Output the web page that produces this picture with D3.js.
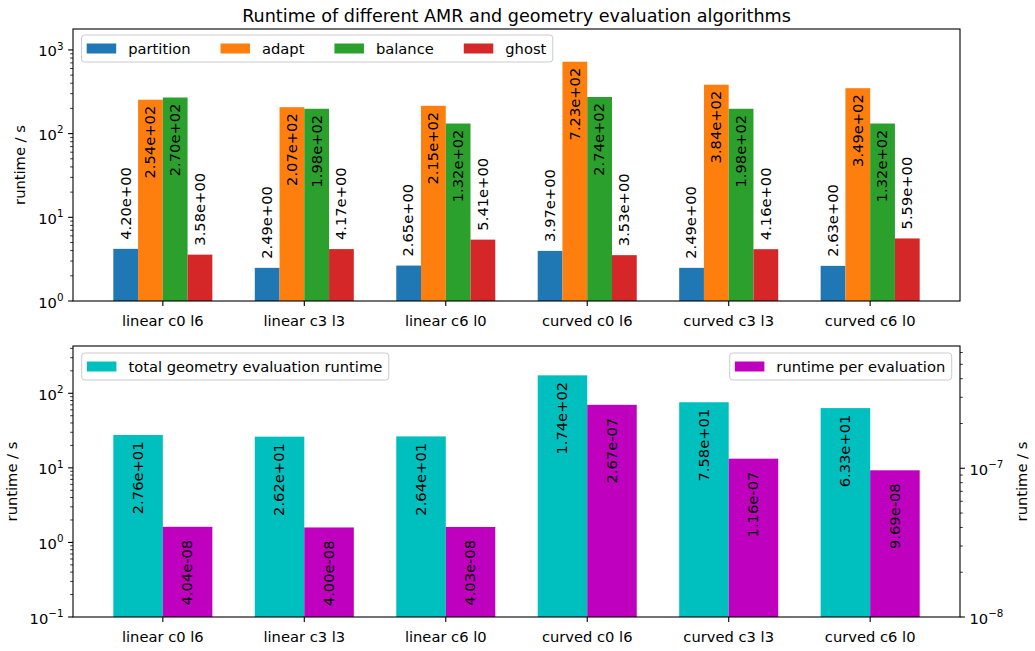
<!DOCTYPE html>
<html>
<head>
<meta charset="utf-8">
<script src="https://cdn.jsdelivr.net/npm/d3@7"></script>
<style>
body { margin: 0; background: #fff; }
svg { display: block; font-family: "DejaVu Sans", sans-serif; }
</style>
</head>
<body>
<svg width="1035" height="651"></svg>
<script>
// data
const categories = ["linear c0 l6", "linear c3 l3", "linear c6 l0", "curved c0 l6", "curved c3 l3", "curved c6 l0"];
const amrNames = ["partition", "adapt", "balance", "ghost"];
const amrColors = ["#1f77b4", "#ff7f0e", "#2ca02c", "#d62728"];
const partition = [4.20, 2.49, 2.65, 3.97, 2.49, 2.63];
const adapt = [254, 207, 215, 723, 384, 349];
const balance = [270, 198, 132, 274, 198, 132];
const ghost = [3.58, 4.17, 5.41, 3.53, 4.16, 5.59];
const geomTotal = [27.6, 26.2, 26.4, 174, 75.8, 63.3];
const geomPerEval = [4.04e-8, 4.00e-8, 4.03e-8, 2.67e-7, 1.16e-7, 9.69e-8];

const amrSeries = [partition, adapt, balance, ghost];

const svg = d3.select("svg");
const fs = 14.7;

// layout
const left = 73, right = 960;
const top1 = 29, bot1 = 301;
const top2 = 346, bot2 = 617;

const x = d3.scaleLinear().domain([-0.635, 5.635]).range([left, right]);
const yTop = d3.scaleLog().domain([1, Math.pow(10, 3.25)]).range([bot1, top1]);
const yBotL = d3.scaleLog().domain([0.1, Math.pow(10, 2.634)]).range([bot2, top2]);
const yBotR = d3.scaleLog().domain([1e-8, Math.pow(10, -6.178)]).range([bot2, top2]);

function fmtE(v) {
    const parts = v.toExponential(2).split("e");
    const n = +parts[1];
    return parts[0] + "e" + (n < 0 ? "-" : "+") + String(Math.abs(n)).padStart(2, "0");
}

function logAxis(g, y, side, x0) {
    const [lo, hi] = y.domain();
    const kmin = Math.floor(Math.log10(lo) + 1e-9), kmax = Math.ceil(Math.log10(hi));
    const dir = side === "left" ? -1 : 1;
    for (let k = kmin; k <= kmax; k++) {
        for (let m = 1; m <= 9; m++) {
            const v = m * Math.pow(10, k);
            if (v < lo * 0.999 || v > hi * 1.001) continue;
            const yy = y(v);
            const len = m === 1 ? 4.9 : 2.8;
            g.append("line")
                .attr("x1", x0).attr("x2", x0 + dir * len)
                .attr("y1", yy).attr("y2", yy)
                .attr("stroke", "#000").attr("stroke-width", m === 1 ? 1.1 : 0.8);
            if (m === 1) {
                const t = g.append("text")
                    .attr("x", x0 + dir * 9.5)
                    .attr("y", yy + 6.5)
                    .attr("text-anchor", side === "left" ? "end" : "start")
                    .attr("font-size", fs)
                    .attr("fill", "#000");
                t.append("tspan").text("10");
                t.append("tspan")
                    .attr("font-size", 10.3)
                    .attr("dy", "-0.66em")
                    .text(k < 0 ? "\u2212" + Math.abs(k) : String(k));
            }
        }
    }
}

function xAxis(g, yb) {
    categories.forEach((c, i) => {
        g.append("line")
            .attr("x1", x(i)).attr("x2", x(i))
            .attr("y1", yb).attr("y2", yb + 4.9)
            .attr("stroke", "#000").attr("stroke-width", 1.1);
        g.append("text")
            .attr("x", x(i)).attr("y", yb + 24.5)
            .attr("text-anchor", "middle")
            .attr("font-size", fs)
            .text(c);
    });
}

function frame(g, yt, yb) {
    g.append("rect")
        .attr("x", left).attr("y", yt)
        .attr("width", right - left).attr("height", yb - yt)
        .attr("fill", "none").attr("stroke", "#000").attr("stroke-width", 1.1);
}

function yLabel(g, cx, cy) {
    g.append("text")
        .attr("transform", `translate(${cx},${cy}) rotate(-90)`)
        .attr("text-anchor", "middle")
        .attr("dy", "0.35em")
        .attr("font-size", fs)
        .text("runtime / s");
}

function barLabel(g, cx, ytop, v, inside, pad) {
    g.append("text")
        .attr("transform", `translate(${cx},${inside ? ytop + pad : ytop - pad}) rotate(-90)`)
        .attr("text-anchor", inside ? "end" : "start")
        .attr("dy", "0.33em")
        .attr("font-size", fs)
        .attr("fill", "#000")
        .text(fmtE(v));
}

function legend(g, items, bx, by, align) {
    const lg = g.append("g");
    const box = lg.append("rect");
    let cx = 5.2;
    items.forEach((it, i) => {
        lg.append("rect")
            .attr("x", cx).attr("y", 8.5)
            .attr("width", 29.5).attr("height", 10)
            .attr("fill", it.color);
        const t = lg.append("text")
            .attr("x", cx + 29.5 + 12).attr("y", 18.8)
            .attr("font-size", fs)
            .text(it.label);
        cx += 29.5 + 12 + t.node().getComputedTextLength();
        if (i < items.length - 1) cx += 30;
    });
    const w = cx + 6.5;
    box.attr("x", 0).attr("y", 0).attr("width", w).attr("height", 27)
        .attr("rx", 3).attr("fill", "#fff").attr("fill-opacity", 0.8)
        .attr("stroke", "#cccccc").attr("stroke-width", 1);
    const tx = align === "right" ? bx - w : bx;
    lg.attr("transform", `translate(${tx},${by})`);
}

// title
svg.append("text")
    .attr("x", (left + right) / 2).attr("y", 21.5)
    .attr("text-anchor", "middle")
    .attr("font-size", 17.6)
    .text("Runtime of different AMR and geometry evaluation algorithms");

// ---- top panel
const g1 = svg.append("g");
const bw1 = 0.175;
amrSeries.forEach((vals, j) => {
    g1.append("g").selectAll("rect")
        .data(vals)
        .enter()
        .append("rect")
        .attr("x", (d, i) => x(i - 0.35 + j * bw1))
        .attr("width", x(bw1) - x(0))
        .attr("y", d => yTop(d))
        .attr("height", d => bot1 - yTop(d))
        .attr("fill", amrColors[j]);
});
amrSeries.forEach((vals, j) => {
    vals.forEach((v, i) => {
        const cx = x(i - 0.35 + (j + 0.5) * bw1);
        const inside = v > 10;
        barLabel(g1, cx, yTop(v), v, inside, inside ? 6 : 9);
    });
});
frame(g1, top1, bot1);
logAxis(g1, yTop, "left", left);
xAxis(g1, bot1);
yLabel(g1, 19.5, (top1 + bot1) / 2);
legend(g1, amrNames.map((n, j) => ({ label: n, color: amrColors[j] })), left + 8.5, top1 + 6, "left");

// ---- bottom panel
const g2 = svg.append("g");
const bw2 = 0.35;
g2.append("g").selectAll("rect")
    .data(geomTotal)
    .enter()
    .append("rect")
    .attr("x", (d, i) => x(i - bw2))
    .attr("width", x(bw2) - x(0))
    .attr("y", d => yBotL(d))
    .attr("height", d => bot2 - yBotL(d))
    .attr("fill", "#00bfbf");
g2.append("g").selectAll("rect")
    .data(geomPerEval)
    .enter()
    .append("rect")
    .attr("x", (d, i) => x(i))
    .attr("width", x(bw2) - x(0))
    .attr("y", d => yBotR(d))
    .attr("height", d => bot2 - yBotR(d))
    .attr("fill", "#bf00bf");
geomTotal.forEach((v, i) => barLabel(g2, x(i - bw2 / 2), yBotL(v), v, true, 6.5));
geomPerEval.forEach((v, i) => barLabel(g2, x(i + bw2 / 2), yBotR(v), v, true, 13));
frame(g2, top2, bot2);
logAxis(g2, yBotL, "left", left);
logAxis(g2, yBotR, "right", right);
xAxis(g2, bot2);
yLabel(g2, 11.5, (top2 + bot2) / 2);
yLabel(g2, 1022, (top2 + bot2) / 2);
legend(g2, [{ label: "total geometry evaluation runtime", color: "#00bfbf" }], left + 8.7, top2 + 7, "left");
legend(g2, [{ label: "runtime per evaluation", color: "#bf00bf" }], right - 8.3, top2 + 7, "right");
</script>
</body>
</html>
